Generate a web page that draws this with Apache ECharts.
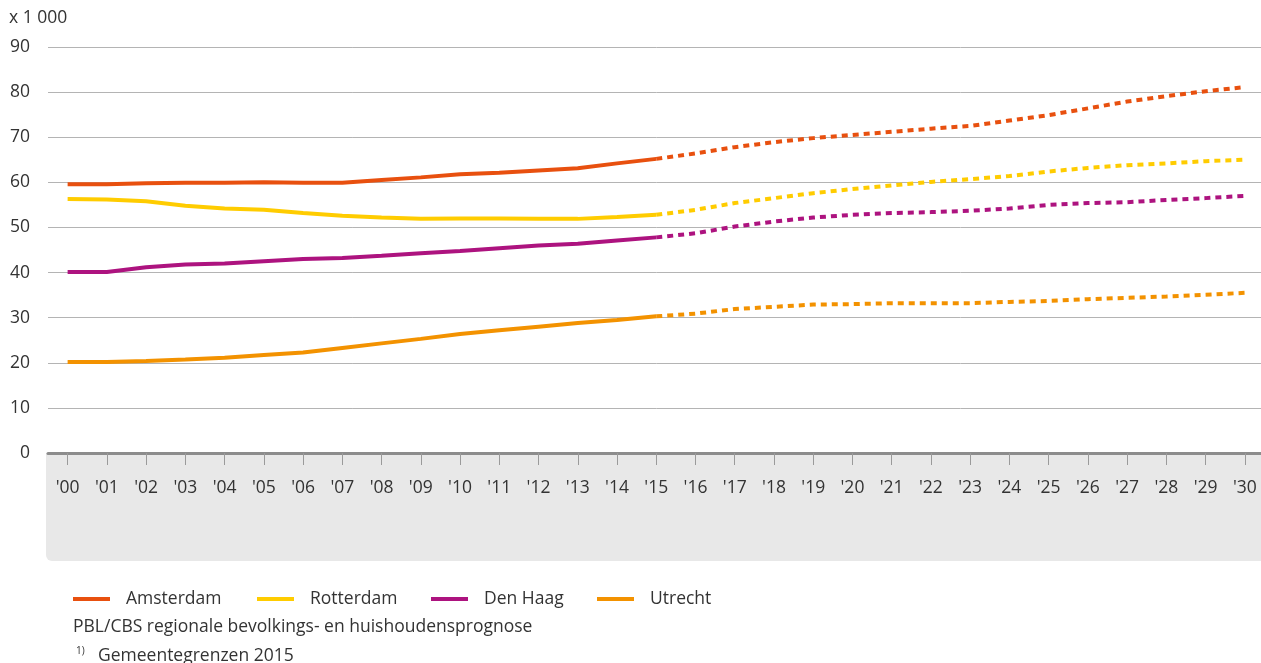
<!DOCTYPE html>
<html>
<head>
<meta charset="utf-8">
<script src="https://cdn.jsdelivr.net/npm/echarts@6/dist/echarts.min.js"></script>
<style>
html,body{margin:0;padding:0;background:#fff;overflow:hidden;}
#c{width:1265px;height:663px;}
</style>
</head>
<body>
<div id="c"></div>
<script>
const years = ["'00","'01","'02","'03","'04","'05","'06","'07","'08","'09","'10","'11","'12","'13","'14","'15","'16","'17","'18","'19","'20","'21","'22","'23","'24","'25","'26","'27","'28","'29","'30"];
const lastObserved = 15;
const amsterdam = [59.6,59.6,59.8,59.9,59.9,60.0,59.9,59.9,60.5,61.1,61.8,62.1,62.6,63.1,64.2,65.2,66.4,67.8,68.9,69.8,70.5,71.2,71.9,72.5,73.7,74.9,76.4,77.9,79.1,80.2,81.1];
const rotterdam = [56.3,56.2,55.8,54.8,54.2,53.9,53.2,52.6,52.2,51.9,52.0,52.0,51.9,51.9,52.3,52.8,53.9,55.4,56.5,57.6,58.5,59.3,60.1,60.7,61.4,62.4,63.2,63.8,64.2,64.7,65.0];
const denHaag = [40.1,40.1,41.2,41.8,42.0,42.5,43.0,43.2,43.7,44.3,44.8,45.4,46.0,46.4,47.1,47.8,48.7,50.2,51.3,52.2,52.8,53.2,53.4,53.7,54.2,55.0,55.4,55.6,56.1,56.5,57.0];
const utrecht = [20.2,20.2,20.4,20.7,21.1,21.7,22.3,23.3,24.3,25.3,26.4,27.2,28.0,28.8,29.5,30.3,30.9,31.9,32.4,32.9,33.0,33.2,33.2,33.2,33.5,33.7,34.1,34.4,34.7,35.1,35.5];
const yTicks = {min:0, max:90, interval:10};

const cities = [
  {name:'Amsterdam', data:amsterdam, color:'#e8500f'},
  {name:'Rotterdam', data:rotterdam, color:'#ffcc00'},
  {name:'Den Haag', data:denHaag, color:'#ad137f'},
  {name:'Utrecht', data:utrecht, color:'#f39200'}
];

const series = [];
cities.forEach(c => {
  series.push({
    name:c.name, type:'line', symbol:'none', showSymbol:false,
    data:c.data.map((v,i)=> i<=lastObserved ? v : null),
    lineStyle:{color:c.color, width:4, cap:'butt'},
    itemStyle:{color:c.color},
    z:3
  });
  series.push({
    name:c.name + ' prognose', type:'line', symbol:'none', showSymbol:false,
    data:c.data.map((v,i)=> i>=lastObserved ? v : null),
    lineStyle:{color:c.color, width:4, type:[6,5], cap:'butt'},
    itemStyle:{color:c.color},
    z:3
  });
});

const FS = 17.5;
const legendLefts = [73, 257, 431, 597];
const legends = cities.map((c,i)=>({
  data:[c.name], left:legendLefts[i], top:590, icon:'rect', padding:0,
  itemWidth:37, itemHeight:4, selectedMode:false,
  textStyle:{fontFamily:'Open Sans', fontSize:FS, color:'#333', padding:[0,0,0,11]}
}));

const chart = echarts.init(document.getElementById('c'), null, {renderer:'canvas'});
chart.setOption({
  animation:false,
  backgroundColor:'#fff',
  textStyle:{fontFamily:'Open Sans'},
  title:{text:'x 1 000', left:9, top:9, padding:0, textStyle:{fontFamily:'Open Sans', fontSize:FS, fontWeight:'normal', color:'#333'}},
  legend:legends,
  grid:{left:48, top:47, right:0.5, bottom:210, containLabel:false},
  graphic:[
    {type:'rect', z:-10, shape:{x:46, y:453, width:1230, height:108, r:[0,0,0,6]}, style:{fill:'#e8e8e8'}},
    {type:'text', left:73, top:618, style:{text:'PBL/CBS regionale bevolkings- en huishoudensprognose', font:FS+'px "Open Sans"', fill:'#333'}},
    {type:'text', left:76, top:646, style:{text:'1)', font:'10px "Open Sans"', fill:'#333'}},
    {type:'text', left:98, top:647, style:{text:'Gemeentegrenzen 2015', font:FS+'px "Open Sans"', fill:'#333'}}
  ],
  xAxis:{
    type:'category', data:years, boundaryGap:true,
    axisLine:{show:true, lineStyle:{color:'#8c8c8c', width:3}},
    axisTick:{show:true, alignWithLabel:true, length:12, lineStyle:{color:'#9a9a9a', width:1}},
    axisLabel:{margin:26, fontSize:FS, color:'#333', fontFamily:'Open Sans', interval:0},
    splitLine:{show:false}
  },
  yAxis:{
    type:'value', min:yTicks.min, max:yTicks.max, interval:yTicks.interval,
    axisLine:{show:false}, axisTick:{show:false},
    axisLabel:{margin:18, fontSize:FS, color:'#333', fontFamily:'Open Sans'},
    splitLine:{show:true, lineStyle:{color:'#b4b4b4', width:1}}
  },
  series:series
});
</script>
</body>
</html>
